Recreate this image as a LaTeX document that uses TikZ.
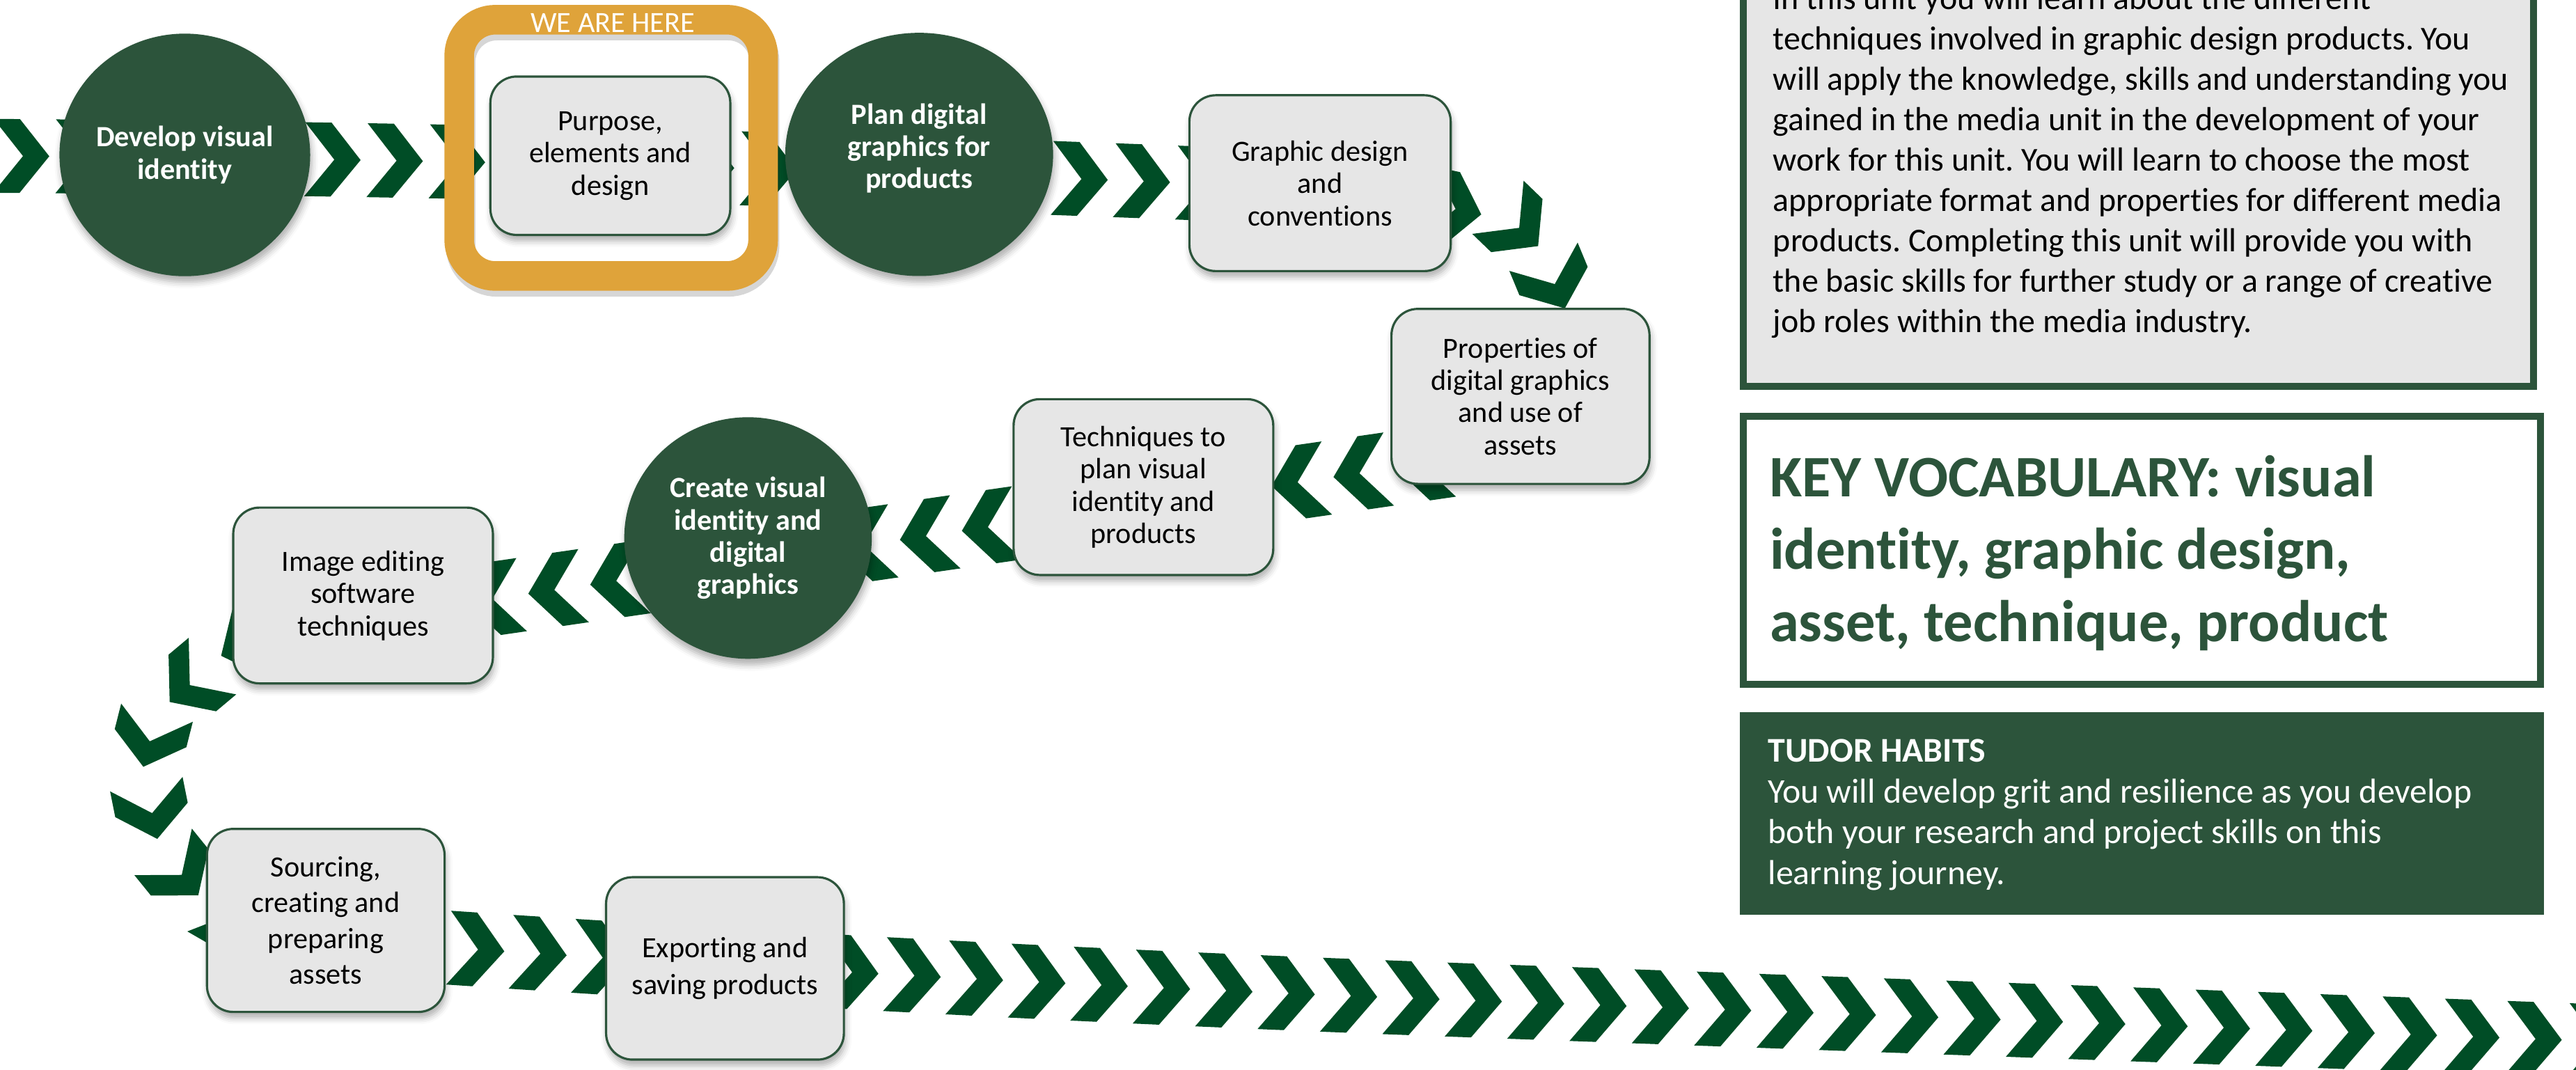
\documentclass[tikz,border=0pt]{standalone}
\usepackage{fontspec}
\setmainfont{Carlito}[Ligatures=CommonOff]
\usetikzlibrary{shapes.geometric,shadows.blur}

\definecolor{deepgreen}{RGB}{44,84,59}
\definecolor{chevgreen}{RGB}{0,77,38}
\definecolor{herebar}{RGB}{223,163,58}
\definecolor{panelgray}{RGB}{230,230,230}

% one drawing unit in points
\newdimen\su
\su=0.67139pt

\frenchspacing
\begin{document}
\begin{tikzpicture}[x=0.023597cm, y=-0.023597cm,
  chev/.pic={\fill[chevgreen] (-17,-22.5) -- (-1,-22.5) -- (17,0) -- (-1,22.5) -- (-17,22.5) -- (1,0) -- cycle;},
  softshadow/.style={blur shadow={shadow xshift=0.6pt, shadow yshift=-2.4pt, shadow blur radius=2.6pt, shadow opacity=32}},
  stage/.style={ellipse, fill=deepgreen, text=white, inner sep=0pt, align=center,
    font=\bfseries\fontsize{12}{13.1}\selectfont, softshadow},
  topic/.style={rectangle, rounded corners=16\su, draw=deepgreen, line width=0.9pt, fill=panelgray,
    inner sep=0pt, align=center, font=\fontsize{12}{13.2}\selectfont, softshadow},
  bodytext/.style={anchor=base west, inner sep=0pt, font=\fontsize{13.63}{16.5}\selectfont},
  vocabtext/.style={anchor=base west, inner sep=0pt, text=deepgreen, font=\bfseries\fontsize{24.04}{29}\selectfont},
  habittext/.style={anchor=base west, inner sep=0pt, text=white, font=\fontsize{14.17}{17}\selectfont},
]
\useasboundingbox (0,0) rectangle (1568,651);

% ---------- chevron trail ----------
% top row, heading right
\foreach \n in {0,...,22}{
  \pgfmathsetmacro\cx{13+37.9*\n}
  \pgfmathsetmacro\u{(\cx-13)/100}
  \pgfmathsetmacro\cy{95+0.7276*\u+0.22285*\u*\u}
  \pgfmathsetmacro\ca{-atan(0.007276+0.004457*\u)}
  \pic[rotate=\ca] at (\cx,\cy) {chev};
}
% bend on the right, heading down
\foreach \cx/\cy/\ca in {885/127/-12, 924/138/-44, 946/172/-67.5, 958/211/-88, 948/249/-120, 908/272/-160}
  \pic[rotate=\ca] at (\cx,\cy) {chev};
% middle row, heading left
\foreach \n in {0,...,18}{
  \pgfmathsetmacro\cx{866.2-37.7*\n}
  \pgfmathsetmacro\cy{282.5+5.46*\n}
  \pic[rotate=188.24] at (\cx,\cy) {chev};
}
% bend on the left, heading down and back to the right
\foreach \cx/\cy/\ca in {150/392/205, 116.3/416.4/220, 91.4/450.3/255.8, 92.4/494/281.3,
                         110/531.8/309, 140/556/330, 176/569/345, 213/575/355, 251/577/-1}
  \pic[rotate=\ca] at (\cx,\cy) {chev};
% bottom row, heading right
\foreach \n in {0,...,34}{
  \pgfmathsetmacro\cx{290+37.95*\n}
  \pgfmathsetmacro\u{(\cx-290)/100}
  \pgfmathsetmacro\cy{\cx<890 ? 578+6.644*\u-0.252*\u*\u : 608.8+0.0362*(\cx-890)}
  \pgfmathsetmacro\ca{-atan(\cx<890 ? (0.06644-0.00504*\u) : 0.0362)}
  \pic[rotate=\ca] at (\cx,\cy) {chev};
}

% ---------- stages ----------
\node[stage, minimum width=149\su, minimum height=147.6\su] (develop) at (112.5,94.3) {Develop visual\\identity};
\node[stage, minimum width=163\su, minimum height=148\su, text depth=7pt] (plan) at (559.5,94) {Plan digital\\graphics for\\products};
\node[stage, minimum width=150.6\su, minimum height=147\su] (create) at (455.3,327.5) {Create visual\\identity and\\digital\\graphics};

% ---------- topics ----------
\node[topic, minimum width=159\su, minimum height=107\su] (graphic) at (803.5,111.5) {Graphic design\\and\\conventions};
\node[topic, minimum width=157\su, minimum height=106.5\su] (props) at (925.5,241.3) {Properties of\\digital graphics\\and use of\\assets};
\node[topic, minimum width=158\su, minimum height=107\su] (tech) at (696,296.5) {Techniques to\\plan visual\\identity and\\products};
\node[topic, minimum width=158\su, minimum height=107\su] (imageedit) at (221,362.5) {Image editing\\software\\techniques};
\node[topic, minimum width=144.6\su, minimum height=111.4\su, font=\fontsize{12}{14.6}\selectfont] (sourcing) at (198.3,560.3) {Sourcing,\\creating and\\preparing\\assets};
\node[topic, minimum width=144.7\su, minimum height=111\su, font=\fontsize{12}{15.3}\selectfont] (exporting) at (441.3,589.5) {Exporting and\\saving products};

% ---------- current position marker ----------
\draw[black, opacity=0.16, line width=18\su, rounded corners=22\su, shift={(0.6pt,-2.4pt)}] (279.5,12) rectangle (464.5,168);
\draw[herebar, line width=18\su, rounded corners=22\su] (279.5,12) rectangle (464.5,168);
\node[anchor=base, inner sep=0pt, text=white, font=\fontsize{12}{14}\selectfont] (here) at (373,19.9) {WE ARE HERE};
\node[topic, minimum width=146\su, minimum height=96.4\su] (purpose) at (371.5,94.8) {Purpose,\\elements and\\design};

% ---------- side panels ----------
\draw[deepgreen, fill=panelgray, line width=4.4\su] (1061.2,-20) rectangle (1542,235.1);
\foreach \t [count=\i] in {{In this unit you will learn about the different},
  {techniques involved in graphic design products. You},
  {will apply the knowledge, skills and understanding you},
  {gained in the media unit in the development of your},
  {work for this unit. You will learn to choose the most},
  {appropriate format and properties for different media},
  {products. Completing this unit will provide you with},
  {the basic skills for further study or a range of creative},
  {job roles within the media industry.}}
  \node[bodytext] (about\i) at (1079,{5.7+24.6*(\i-1)}) {\t};

\draw[deepgreen, fill=white, line width=4.2\su] (1061.1,253.5) rectangle (1546.4,416.6);
\foreach \t [count=\i] in {{KEY VOCABULARY: visual},{identity, graphic design,},{asset, technique, product}}
  \node[vocabtext] (vocab\i) at (1077,{302.5+44*(\i-1)}) {\t};

\fill[deepgreen] (1059,433.4) rectangle (1548.5,557);
\node[habittext, font=\bfseries\fontsize{14.17}{17}\selectfont] (habits) at (1076,464) {TUDOR HABITS};
\foreach \t [count=\i] in {{You will develop grit and resilience as you develop},
  {both your research and project skills on this},
  {learning journey.}}
  \node[habittext] (habits\i) at (1076,{464+24.8*\i}) {\t};
\end{tikzpicture}
\end{document}
